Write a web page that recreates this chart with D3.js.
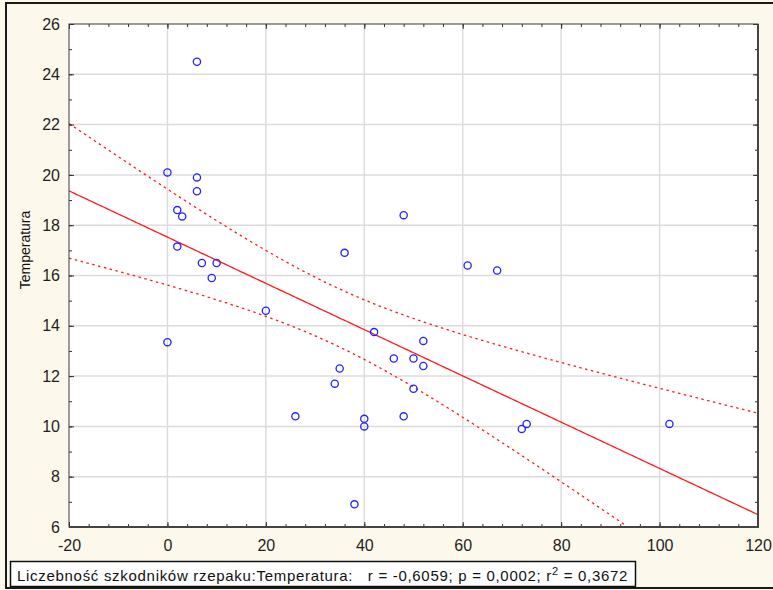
<!DOCTYPE html>
<html>
<head>
<meta charset="utf-8">
<script src="https://cdn.jsdelivr.net/npm/d3@7/dist/d3.min.js"></script>
<style>
  html, body { margin: 0; padding: 0; background: #fdf8ec; }
  svg { display: block; font-family: "Liberation Sans", Arial, sans-serif; }
</style>
</head>
<body>
<svg id="chart" width="773" height="590"></svg>
<script>
// Pest count (x) vs temperature (y), one record per observation
const pestCount = [6, 0, 6, 6, 2, 3, 2, 7, 10, 9, 0, 20, 36, 48, 61, 67, 42, 52, 46, 50, 52, 35, 34, 50, 26, 48, 40, 40, 38, 72, 73, 102];
const temperature = [24.5, 20.1, 19.9, 19.35, 18.6, 18.35, 17.15, 16.5, 16.5, 15.9, 13.35, 14.6, 16.9, 18.4, 16.4, 16.2, 13.75, 13.4, 12.7, 12.7, 12.4, 12.3, 11.7, 11.5, 10.4, 10.4, 10.3, 10.0, 6.9, 9.9, 10.1, 10.1];

const xTicks = [-20, 0, 20, 40, 60, 80, 100, 120];
const yTicks = [6, 8, 10, 12, 14, 16, 18, 20, 22, 24, 26];
const xMinorTicks = d3.range(-20, 120.01, 4);
const yMinorTicks = d3.range(6, 26.01, 1);

const yLabel = "Temperatura";
const statsLabel = "Liczebność szkodników rzepaku:Temperatura:   r = -0,6059; p = 0,0002; r";
const statsTail = " = 0,3672";
const tCrit = 2.0423; // Student t, 0.975 quantile, 30 df

const svg = d3.select("#chart");
const W = 773, H = 590;
const plot = { left: 69, right: 758, top: 24, bottom: 527 };

// outer panel frame
svg.append("rect").attr("x", 0).attr("y", 0).attr("width", W).attr("height", H).attr("fill", "#fdf8ec");
svg.append("rect").attr("x", 6).attr("y", 3).attr("width", W + 10).attr("height", 585)
  .attr("fill", "none").attr("stroke", "#1a1a1a").attr("stroke-width", 2);

const x = d3.scaleLinear().domain([-20, 120]).range([plot.left, plot.right]);
const y = d3.scaleLinear().domain([6, 26]).range([plot.bottom, plot.top]);

// plot background
svg.append("rect").attr("x", plot.left).attr("y", plot.top)
  .attr("width", plot.right - plot.left).attr("height", plot.bottom - plot.top)
  .attr("fill", "#ffffff");

// grid lines at major ticks
const grid = svg.append("g").attr("stroke", "#dcdcdc").attr("stroke-width", 1.5);
grid.selectAll(".gx").data(xTicks.slice(1, -1)).join("line")
  .attr("x1", d => x(d)).attr("x2", d => x(d)).attr("y1", plot.top).attr("y2", plot.bottom);
grid.selectAll(".gy").data(yTicks.slice(1, -1)).join("line")
  .attr("y1", d => y(d)).attr("y2", d => y(d)).attr("x1", plot.left).attr("x2", plot.right);

// regression and 95% confidence band of the mean
const n = pestCount.length;
const mx = d3.mean(pestCount), my = d3.mean(temperature);
let sxx = 0, sxy = 0, syy = 0;
for (let i = 0; i < n; i++) {
  const dx = pestCount[i] - mx, dy = temperature[i] - my;
  sxx += dx * dx; sxy += dx * dy; syy += dy * dy;
}
const slope = sxy / sxx;
const intercept = my - slope * mx;
const sse = syy - slope * sxy;
const se = Math.sqrt(sse / (n - 2));
const fit = v => intercept + slope * v;
const half = v => tCrit * se * Math.sqrt(1 / n + (v - mx) * (v - mx) / sxx);
const xs = d3.range(-20, 120.001, 0.5);

svg.append("clipPath").attr("id", "plotclip").append("rect")
  .attr("x", plot.left).attr("y", plot.top)
  .attr("width", plot.right - plot.left).attr("height", plot.bottom - plot.top);
const lines = svg.append("g").attr("clip-path", "url(#plotclip)");
const lineGen = d3.line().x(d => x(d[0])).y(d => y(d[1]));

lines.append("path").datum(xs.map(v => [v, fit(v)])).attr("d", lineGen)
  .attr("fill", "none").attr("stroke", "#ff1a1a").attr("stroke-width", 1.3);
[1, -1].forEach(sign => {
  lines.append("path").datum(xs.map(v => [v, fit(v) + sign * half(v)])).attr("d", lineGen)
    .attr("fill", "none").attr("stroke", "#ff1a1a").attr("stroke-width", 1.3)
    .attr("stroke-dasharray", "2.5,3.5");
});

// frame axes with inward ticks
function styleAxis(g) {
  g.select(".domain").remove();
  g.selectAll(".tick line").attr("stroke", "#333");
}
const plainNumber = d => String(d);
const axBottom = svg.append("g").attr("transform", `translate(0,${plot.bottom})`)
  .call(d3.axisBottom(x).tickValues(xTicks).tickSize(-5).tickPadding(13)
    .tickFormat(plainNumber));
styleAxis(axBottom);
svg.append("g").attr("transform", `translate(0,${plot.bottom})`)
  .call(d3.axisBottom(x).tickValues(xMinorTicks).tickSize(-3).tickFormat(""))
  .call(styleAxis);
svg.append("g").attr("transform", `translate(0,${plot.top})`)
  .call(d3.axisTop(x).tickValues(xMinorTicks).tickSize(-3).tickFormat(""))
  .call(styleAxis);
svg.append("g").attr("transform", `translate(0,${plot.top})`)
  .call(d3.axisTop(x).tickValues(xTicks).tickSize(-5).tickFormat(""))
  .call(styleAxis);

const axLeft = svg.append("g").attr("transform", `translate(${plot.left},0)`)
  .call(d3.axisLeft(y).tickValues(yTicks).tickSize(-5).tickPadding(9)
    .tickFormat(plainNumber));
styleAxis(axLeft);
svg.append("g").attr("transform", `translate(${plot.left},0)`)
  .call(d3.axisLeft(y).tickValues(yMinorTicks).tickSize(-3).tickFormat(""))
  .call(styleAxis);
svg.append("g").attr("transform", `translate(${plot.right},0)`)
  .call(d3.axisRight(y).tickValues(yMinorTicks).tickSize(-3).tickFormat(""))
  .call(styleAxis);
svg.append("g").attr("transform", `translate(${plot.right},0)`)
  .call(d3.axisRight(y).tickValues(yTicks).tickSize(-5).tickFormat(""))
  .call(styleAxis);

[axBottom, axLeft].forEach(g => g.selectAll(".tick text")
  .attr("font-size", 16).attr("fill", "#1f1f1f")
  .attr("font-family", "'Liberation Sans', Arial, sans-serif"));

// plot border: thin top/left, heavier right/bottom
svg.append("rect").attr("x", plot.left).attr("y", plot.top)
  .attr("width", plot.right - plot.left).attr("height", plot.bottom - plot.top)
  .attr("fill", "none").attr("stroke", "#3a3a3a").attr("stroke-width", 1);
svg.append("path")
  .attr("d", `M${plot.right},${plot.top} V${plot.bottom} H${plot.left}`)
  .attr("fill", "none").attr("stroke", "#444").attr("stroke-width", 2);

// observations
svg.append("g").selectAll("circle").data(d3.range(n)).join("circle")
  .attr("cx", i => x(pestCount[i])).attr("cy", i => y(temperature[i]))
  .attr("r", 3.6).attr("fill", "none").attr("stroke", "#2323ff").attr("stroke-width", 1.3);

// y axis title
svg.append("text")
  .attr("transform", "translate(30,250) rotate(-90)")
  .attr("text-anchor", "middle").attr("font-size", 14).attr("fill", "#111")
  .text(yLabel);

// statistics box
svg.append("rect").attr("x", 10.5).attr("y", 561.5).attr("width", 625).attr("height", 25)
  .attr("fill", "#ffffff").attr("stroke", "#111").attr("stroke-width", 1.5);
const st = svg.append("text").attr("x", 17).attr("y", 581)
  .attr("font-size", 15).attr("letter-spacing", 0.7).attr("fill", "#111")
  .style("white-space", "pre");
st.append("tspan").text(statsLabel);
st.append("tspan").attr("dy", -6).attr("font-size", 11).text("2");
st.append("tspan").attr("dy", 6).text(statsTail);
</script>
</body>
</html>
